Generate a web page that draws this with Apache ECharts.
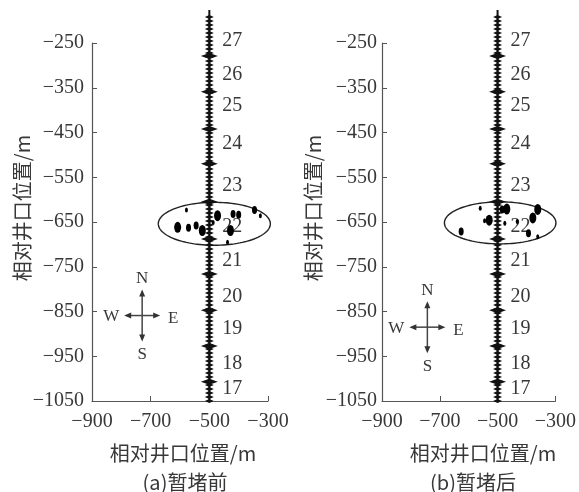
<!DOCTYPE html>
<html><head><meta charset="utf-8">
<script src="https://cdn.jsdelivr.net/npm/echarts@6/dist/echarts.min.js"></script>
<style>html,body{margin:0;padding:0;background:#fff}#c{width:579px;height:492px}</style>
</head><body><div id="c"></div>
<script>
// ---- data ----
const yTicks = [-1050, -950, -850, -750, -650, -550, -450, -350, -250];
const xTicks = [-900, -700, -500, -300];
const stageNames = ['17', '18', '19', '20', '21', '22', '23', '24', '25', '26', '27'];
const stageLabelY = [-1023, -967, -889, -816, -737, -661, -570, -476, -391, -321, -245];
const stageBoundsY = [-1007, -927, -847, -766, -688, -605, -520, -442, -359, -279];
const wellX = -500;
const wellTopY = -176;
const wellBottomY = -1050;
// [x, y, magnitude level]
const eventsBefore = [
  [-578, -623, 1], [-608, -662, 3], [-571, -663, 2], [-545, -658, 2], [-524, -669, 3],
  [-487, -651, 1], [-472, -636, 3], [-419, -632, 2], [-400, -634, 2], [-428, -669, 3],
  [-438, -695, 1], [-346, -623, 2], [-326, -636, 1]
];
const eventsAfter = [
  [-560, -619, 1], [-545, -647, 1], [-529, -646, 3], [-484, -622, 2], [-468, -621, 3],
  [-475, -653, 1], [-361, -622, 3], [-378, -641, 3], [-393, -675, 2], [-361, -683, 1],
  [-626, -671, 2], [-432, -649, 1]
];
// [centerX, centerY, semiX, semiY]
const ellipseBefore = [-483, -654, 191, 48];
const ellipseAfter = [-491, -652, 193, 47];
const compassBefore = [-729, -859];
const compassAfter = [-743, -885];
const xName = '相对井口位置/m';
const yName = '相对井口位置/m';
const captions = ['(a)暂堵前', '(b)暂堵后'];

// ---- styles ----
const serif = 'Liberation Serif';
const cjk = 'Noto Sans CJK SC';
const textColor = '#383838';
const axisColor = '#555';
const fmt = v => String(v).replace('-', '\u2212');
const symSizes = {1: [3, 5], 2: [5, 8], 3: [7, 11]};

const chart = echarts.init(document.getElementById('c'));

function diamond(cx, cy, w, h) {
  return {type: 'polygon', shape: {points: [[cx - w, cy], [cx, cy - h], [cx + w, cy], [cx, cy + h]]},
    style: {fill: '#111'}};
}
function txt(t, x, y, size, fam, align) {
  return {type: 'text', x: x, y: y, style: {text: t, fill: textColor, fontSize: size, fontFamily: fam,
    align: align || 'center', verticalAlign: 'middle'}};
}
function wellRender(params, api) {
  const x = api.value(0);
  const top = api.coord([x, api.value(1)]);
  const bot = api.coord([x, api.value(2)]);
  const cx = top[0];
  const ch = [{type: 'line', shape: {x1: cx, y1: top[1], x2: cx, y2: bot[1]}, style: {stroke: '#111', lineWidth: 2}}];
  for (let y = top[1] + 7; y <= bot[1] + 0.5; y += 4) ch.push(diamond(cx, y, 4.5, 2));
  stageBoundsY.forEach(b => { const p = api.coord([x, b]); ch.push(diamond(cx, p[1], 8.5, 3)); });
  stageNames.forEach((s, i) => {
    const p = api.coord([x, stageLabelY[i]]);
    ch.push(txt(s, cx + 13, p[1], 20, serif, 'left'));
  });
  return {type: 'group', children: ch};
}
function ellipseRender(params, api) {
  const c = api.coord([api.value(0), api.value(1)]);
  const rx = api.size([api.value(2), 0])[0];
  const ry = api.size([0, api.value(3)])[1];
  const pts = [];
  for (let i = 0; i < 120; i++) { const t = i / 120 * Math.PI * 2; pts.push([c[0] + rx * Math.cos(t), c[1] + ry * Math.sin(t)]); }
  return {type: 'polygon', shape: {points: pts}, style: {fill: 'none', stroke: '#222', lineWidth: 1.4}};
}
function arrowHead(x, y, dx, dy) {
  const L = 7, W = 3;
  const bx = x - dx * L, by = y - dy * L;
  return {type: 'polygon', shape: {points: [[x, y], [bx - dy * W, by + dx * W], [bx + dy * W, by - dx * W]]}, style: {fill: '#333'}};
}
function compassRender(params, api) {
  const c = api.coord([api.value(0), api.value(1)]);
  const v = 26, h = 18;
  const st = {stroke: '#444', lineWidth: 1.5};
  return {type: 'group', children: [
    {type: 'line', shape: {x1: c[0], y1: c[1] - v + 3, x2: c[0], y2: c[1] + v - 3}, style: st},
    {type: 'line', shape: {x1: c[0] - h + 3, y1: c[1], x2: c[0] + h - 3, y2: c[1]}, style: st},
    arrowHead(c[0], c[1] - v, 0, -1), arrowHead(c[0], c[1] + v, 0, 1),
    arrowHead(c[0] - h, c[1], -1, 0), arrowHead(c[0] + h, c[1], 1, 0),
    txt('N', c[0], c[1] - 37, 17, serif), txt('S', c[0], c[1] + 39, 17, serif),
    txt('W', c[0] - 31, c[1] + 1, 17, serif), txt('E', c[0] + 31, c[1] + 3, 17, serif)
  ]};
}

const grids = [{left: 92, top: 43, width: 176, height: 358}, {left: 382, top: 43, width: 176, height: 358}];
const xAxes = [0, 1].map(i => ({
  type: 'value', gridIndex: i, min: -900, max: -300,
  axisLine: {show: true, onZero: false, lineStyle: {color: axisColor, width: 1.2}},
  axisTick: {show: true, inside: true, length: 5, customValues: xTicks, lineStyle: {color: axisColor}},
  axisLabel: {customValues: xTicks, formatter: fmt, margin: 11, fontSize: 20, fontFamily: serif, color: textColor},
  splitLine: {show: false}
}));
const yAxes = [0, 1].map(i => ({
  type: 'value', gridIndex: i, min: -1050, max: -250,
  axisLine: {show: true, onZero: false, lineStyle: {color: axisColor, width: 1.2}},
  axisTick: {show: true, inside: true, length: 5, customValues: yTicks, lineStyle: {color: axisColor}},
  axisLabel: {customValues: yTicks, formatter: fmt, margin: i === 0 ? 8 : 5, fontSize: 20, fontFamily: serif, color: textColor},
  splitLine: {show: false}
}));

const series = [];
[[ellipseBefore, eventsBefore, compassBefore], [ellipseAfter, eventsAfter, compassAfter]].forEach((set, i) => {
  series.push({type: 'custom', xAxisIndex: i, yAxisIndex: i, renderItem: ellipseRender, clip: false,
    encode: {x: 0, y: 1}, data: [set[0]], silent: true});
  series.push({type: 'scatter', xAxisIndex: i, yAxisIndex: i, data: set[1], symbol: 'circle',
    symbolSize: v => symSizes[v[2]], itemStyle: {color: '#000', opacity: 1}, clip: false});
  series.push({type: 'custom', xAxisIndex: i, yAxisIndex: i, renderItem: wellRender, clip: false,
    encode: {x: 0, y: [1, 2]}, data: [[wellX, wellTopY, wellBottomY]], silent: true});
  series.push({type: 'custom', xAxisIndex: i, yAxisIndex: i, renderItem: compassRender, clip: false,
    encode: {x: 0, y: 1}, data: [set[2]], silent: true});
});

const graphic = [];
[[183, 185, 22], [483, 473, 313]].forEach((p, i) => {
  graphic.push({type: 'text', x: p[0], y: 453, style: {text: xName, fontSize: 20, fontFamily: cjk, fill: textColor, align: 'center', verticalAlign: 'middle'}});
  graphic.push({type: 'text', x: p[1], y: 482, style: {text: captions[i], fontSize: 20, fontFamily: cjk, fill: textColor, align: 'center', verticalAlign: 'middle'}});
  graphic.push({type: 'text', x: p[2], y: 208, rotation: Math.PI / 2, style: {text: yName, fontSize: 20, fontFamily: cjk, fill: textColor, align: 'center', verticalAlign: 'middle'}});
});

chart.setOption({
  animation: false,
  grid: grids, xAxis: xAxes, yAxis: yAxes, series: series, graphic: graphic
});
</script></body></html>
